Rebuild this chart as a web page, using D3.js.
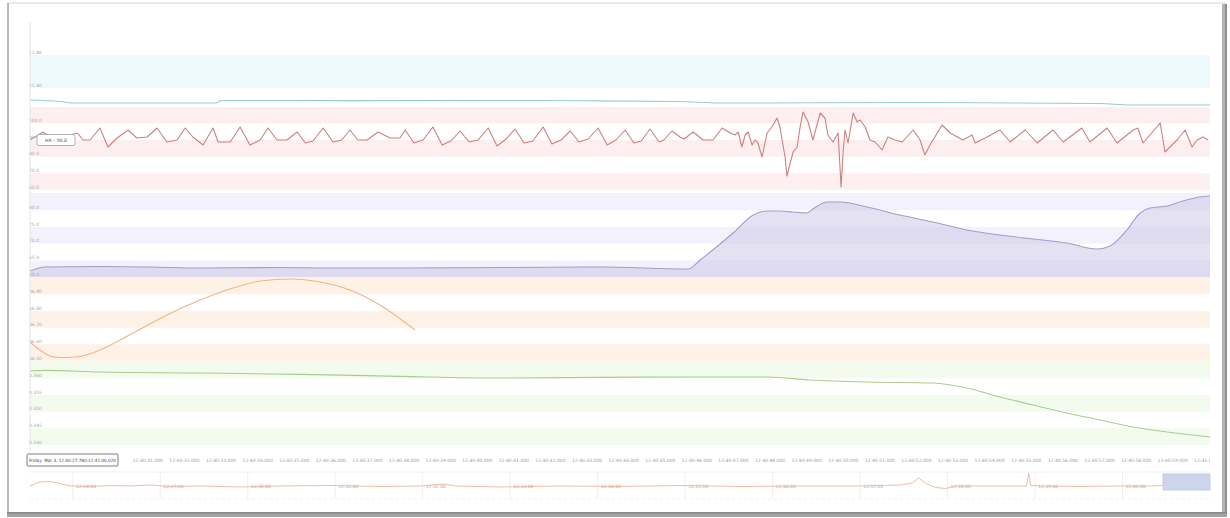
<!DOCTYPE html>
<html>
<head>
<meta charset="utf-8">
<script src="https://cdn.jsdelivr.net/npm/d3@7"></script>
<style>
  html, body { margin: 0; padding: 0; background: #fff; }
  svg { display: block; font-family: "DejaVu Sans", sans-serif; }
</style>
</head>
<body>
<svg id="chart" width="1230" height="518"></svg>
<script>
// ---- session timing -------------------------------------------------------
const sessionStart = new Date(2017, 2, 3, 12, 40, 28, 0);   // Friday, Mar 3
const windowSeconds = [-0.22, 32.02];                        // visible window, s from session start
const historySeconds = 809.4;                                // navigator span ending at window end

// ---- lane 1: temperature probe -------------------------------------------
const cyanDomain = [11.7655, 11.92];
const cyanTicks = [11.80, 11.86];
const cyanTimes  = [-0.22, 0.60, 1.01, 4.84, 5.03, 8.50, 12.62, 15.00, 17.54, 18.63, 24.37, 29.02, 29.84, 32.02];
const cyanValues = [11.7782, 11.7755, 11.7727, 11.7727, 11.7773, 11.7771, 11.7773, 11.7768, 11.7755, 11.7727, 11.7736, 11.7718, 11.7691, 11.7691];

// ---- lane 2: heart rate ----------------------------------------------------
const redDomain = [60, 109.8];
const redTicks = [60, 70, 80, 90, 100];
const redTimes = [
  -0.22, -0.08, 0.14, 0.33, 0.60, 0.87, 1.07, 1.23, 1.42, 1.69, 1.91, 2.16, 2.46, 2.70, 2.98, 3.25, 3.52, 3.80,
  4.02, 4.23, 4.51, 4.78, 4.92, 5.25, 5.52, 5.79, 6.07, 6.28, 6.53, 6.80, 7.08, 7.30, 7.51, 7.79, 8.06, 8.30,
  8.52, 8.74, 8.99, 9.29, 9.62, 9.89,
  10.03, 10.27, 10.52, 10.79, 11.04, 11.28, 11.53, 11.78, 12.02, 12.30, 12.54, 12.79, 13.03, 13.28, 13.52,
  13.80, 14.04, 14.29, 14.54, 14.78, 15.03, 15.30, 15.55, 15.79, 16.04, 16.28, 16.48, 16.72, 16.97, 17.10,
  17.32, 17.54, 17.65, 17.90, 18.17, 18.44, 18.69, 18.91,
  19.04, 19.13, 19.23, 19.32, 19.40, 19.51, 19.59, 19.67, 19.78, 19.92, 20.05, 20.19, 20.27, 20.41, 20.46,
  20.55, 20.63, 20.74, 20.82, 20.90, 21.04, 21.17, 21.37, 21.50, 21.58, 21.72, 21.86, 21.94, 22.00, 22.05,
  22.13, 22.27, 22.38, 22.46, 22.60, 22.73, 22.87, 23.06, 23.22, 23.42, 23.61, 23.91, 24.10, 24.23, 24.37,
  24.70, 24.92, 25.27, 25.52, 25.60, 25.93, 26.28, 26.56, 26.97, 27.30, 27.73, 28.01, 28.52, 28.74, 29.21,
  29.48, 29.92, 30.05, 30.19, 30.66, 30.79, 31.12, 31.34, 31.53, 31.67, 31.83, 31.97
];
const redValues = [
  90.0, 91.8, 94.8, 91.2, 90.0, 93.0, 94.2, 90.0, 90.0, 97.2, 85.8, 91.2, 96.0, 91.2, 91.8, 97.2, 88.8, 90.0,
  97.2, 91.8, 87.0, 97.2, 88.8, 88.8, 97.8, 87.0, 90.0, 97.2, 90.0, 90.0, 94.8, 88.2, 89.4, 97.2, 88.8, 90.0,
  96.0, 90.0, 90.0, 94.8, 91.2, 91.2,
  96.0, 88.2, 90.0, 97.8, 87.0, 89.4, 95.4, 88.8, 90.0, 97.2, 86.4, 90.6, 96.6, 88.2, 89.4,
  97.8, 87.6, 90.0, 95.4, 88.8, 90.6, 97.2, 87.0, 90.0, 96.0, 88.2, 89.4, 96.6, 88.8, 90.0,
  95.4, 91.8, 90.6, 94.8, 90.0, 90.0, 97.2, 94.2,
  93.0, 94.8, 85.8, 93.0, 94.8, 87.0, 90.0, 88.2, 79.8, 94.2, 97.8, 103.2, 97.8, 79.8, 68.4,
  76.2, 82.8, 85.8, 97.8, 106.8, 100.8, 90.0, 106.2, 103.2, 93.0, 88.8, 94.2, 61.8, 84.0, 96.0,
  88.2, 106.2, 100.8, 102.0, 97.8, 90.0, 88.8, 84.0, 91.8, 90.0, 88.8, 96.0, 90.0, 81.0, 87.0,
  99.0, 94.2, 90.0, 93.0, 88.2, 91.8, 96.0, 88.8, 96.0, 88.2, 96.0, 88.8, 97.2, 88.8, 97.2,
  88.2, 96.0, 97.2, 88.2, 100.2, 82.8, 90.0, 96.0, 85.8, 90.0, 91.8, 90.0
];

// ---- lane 3: saturation ----------------------------------------------------
const purpleDomain = [60, 85.2];
const purpleTicks = [60, 65, 70, 75, 80];
const purpleTimes  = [-0.22, 0.19, 1.69, 3.06, 4.43, 6.61, 7.98, 9.89, 12.62, 15.36, 17.76, 18.09, 18.99, 19.54,
  19.92, 20.27, 20.63, 21.01, 21.17, 21.56, 21.91, 22.65, 23.55, 24.45, 25.38, 26.28, 27.19, 28.11, 28.93,
  29.29, 29.75, 30.11, 30.38, 30.85, 31.28, 31.75, 32.02];
const purpleValues = [61.8, 63.0, 63.15, 63.0, 62.7, 62.85, 62.7, 62.7, 62.85, 63.0, 62.4, 65.1, 73.2, 78.6,
  79.8, 79.8, 79.5, 79.2, 80.4, 82.5, 82.5, 81.0, 78.6, 76.5, 74.1, 72.6, 71.4, 70.2, 68.4,
  69.3, 74.1, 79.2, 80.7, 81.3, 82.8, 84.0, 84.3];

// ---- lane 4: core temperature ---------------------------------------------
const orangeDomain = [36.5, 37.004];
const orangeTicks = [36.5, 36.6, 36.7, 36.8, 36.9];
const orangeTimes  = [-0.22, 0.05, 0.33, 0.60, 1.01, 1.42, 1.69, 2.60, 3.52, 4.43, 5.33, 6.07, 6.89, 7.70, 8.52, 9.34, 10.30];
const orangeValues = [36.614, 36.566, 36.530, 36.521, 36.524, 36.542, 36.566, 36.668, 36.776, 36.866, 36.938,
  36.980, 36.992, 36.974, 36.926, 36.836, 36.686];

// ---- lane 5: respiration ---------------------------------------------------
const greenDomain = [0.340, 0.3652];
const greenTicks = [0.340, 0.345, 0.350, 0.355, 0.360];
const greenTimes  = [-0.22, 0.19, 1.69, 4.43, 7.16, 9.89, 12.62, 15.36, 18.09, 19.92, 21.09, 22.65, 24.45,
  25.38, 26.28, 27.19, 28.11, 29.02, 29.92, 30.85, 32.02];
const greenValues = [0.3622, 0.3624, 0.3619, 0.3616, 0.3612, 0.3606, 0.3601, 0.3603, 0.3604, 0.3604, 0.3595,
  0.3589, 0.3586, 0.3571, 0.3544, 0.3520, 0.3496, 0.3475, 0.3454, 0.3439, 0.3424];

// ---- navigator: heart-rate history (s from history start) -----------------
const navDomain = [50, 130];
const navTimes = [0, 6.9, 13.7, 19.2, 27.5, 41.2, 54.9, 68.6, 82.4, 96.1, 116.7, 144.1, 171.6, 205.9, 240.2,
  267.7, 284.8, 291.7, 322.6, 363.8, 404.9, 446.1, 487.3, 528.5, 569.7, 597.1, 605.4, 609.5, 614.3, 621.1,
  628.0, 634.9, 665.8, 683.6, 685.0, 686.4, 693.2, 720.7, 748.1, 768.7, 776.9, 789.3, 809.4];
const navValues = [86.7, 100, 101.7, 96.7, 86.7, 85, 88.3, 86.7, 90, 85, 86.7, 83.3, 86.7, 88.3, 85,
  86.7, 93.3, 86.7, 83.3, 86.7, 85, 88.3, 85, 86.7, 86.7, 90, 96.7, 113.3, 96.7, 81.7,
  78.3, 86.7, 86.7, 86.7, 130, 88.3, 86.7, 85, 86.7, 86.7, 88.3, 86.7, 86.7];

// ---------------------------------------------------------------------------
const svg = d3.select("#chart");
const X0 = 30, X1 = 1210;
const at = s => new Date(sessionStart.getTime() + s * 1000);

const x = d3.scaleTime().domain(windowSeconds.map(at)).range([X0, X1]);

// outer card frame
const frame = svg.append("g");
frame.append("rect").attr("x", 8).attr("y", 3).attr("width", 1217).attr("height", 511)
  .attr("fill", "#fff").attr("stroke", "#d6d6d6").attr("stroke-width", 1);
frame.append("rect").attr("x", 7).attr("y", 3).attr("width", 2).attr("height", 512).attr("fill", "#b9b9b9");
frame.append("rect").attr("x", 1222).attr("y", 4).attr("width", 5).attr("height", 513).attr("fill", "#b3b3b3");
frame.append("rect").attr("x", 1225).attr("y", 4).attr("width", 2).attr("height", 513).attr("fill", "#8f8f8f");
frame.append("rect").attr("x", 7).attr("y", 512).attr("width", 1220).attr("height", 5).attr("fill", "#a4a4a4");
frame.append("rect").attr("x", 7).attr("y", 512).attr("width", 1220).attr("height", 1.5).attr("fill", "#8a8a8a");

svg.append("defs").append("clipPath").attr("id", "plotClip")
  .append("rect").attr("x", X0).attr("y", 0).attr("width", X1 - X0).attr("height", 518);

const lanes = [
  { domain: cyanDomain,   ticks: cyanTicks,   fmt: d3.format(".2f"), range: [107, 22],  shadeFirst: false,
    band: "#eefbfc", stroke: "#96cbd3", times: cyanTimes,   values: cyanValues,   curve: d3.curveMonotoneX },
  { domain: redDomain,    ticks: redTicks,    fmt: d3.format(".1f"), range: [190, 107], shadeFirst: true,
    band: "#fdeff0", stroke: "#cf7f80", times: redTimes,    values: redValues,    curve: d3.curveLinear },
  { domain: purpleDomain, ticks: purpleTicks, fmt: d3.format(".1f"), range: [277, 193], shadeFirst: true,
    band: "#f3f1fc", stroke: "#a29dcc", times: purpleTimes, values: purpleValues, curve: d3.curveMonotoneX,
    area: "#c9c5e6" },
  { domain: orangeDomain, ticks: orangeTicks, fmt: d3.format(".2f"), range: [361, 277], shadeFirst: true,
    band: "#fef1e6", stroke: "#f2b485", times: orangeTimes, values: orangeValues, curve: d3.curveMonotoneX },
  { domain: greenDomain,  ticks: greenTicks,  fmt: d3.format(".3f"), range: [445, 361], shadeFirst: true,
    band: "#f3fbee", stroke: "#adcb90", times: greenTimes,  values: greenValues,  curve: d3.curveMonotoneX }
];

const bandLayer = svg.append("g");
const seriesLayer = svg.append("g").attr("clip-path", "url(#plotClip)");
const labelLayer = svg.append("g");

lanes.forEach(lane => {
  const y = d3.scaleLinear().domain(lane.domain).range(lane.range);
  lane.y = y;
  // alternating shaded bands between gridline values
  const edges = [lane.domain[0], ...lane.ticks.filter(v => v > lane.domain[0] && v < lane.domain[1]), lane.domain[1]];
  d3.pairs(edges).forEach(([lo, hi], i) => {
    if ((i % 2 === 0) === lane.shadeFirst) {
      bandLayer.append("rect")
        .attr("x", X0).attr("width", X1 - X0)
        .attr("y", y(hi)).attr("height", y(lo) - y(hi))
        .attr("fill", lane.band);
    }
  });
  // value labels sit just above their gridline
  lane.ticks.forEach(v => {
    labelLayer.append("text")
      .attr("x", 29).attr("y", y(v) - 1.5)
      .attr("font-size", 4.5).attr("fill", "#a9a9a9")
      .text(lane.fmt(v));
  });
  const pts = lane.times.map((s, i) => [at(s), lane.values[i]]);
  if (lane.area) {
    seriesLayer.append("path").datum(pts)
      .attr("fill", lane.area).attr("fill-opacity", 0.5)
      .attr("d", d3.area().curve(lane.curve).x(d => x(d[0])).y0(y(lane.domain[0])).y1(d => y(d[1])));
  }
  seriesLayer.append("path").datum(pts)
    .attr("fill", "none").attr("stroke", lane.stroke).attr("stroke-width", 1.1)
    .attr("stroke-linejoin", "round")
    .attr("d", d3.line().curve(lane.curve).x(d => x(d[0])).y(d => y(d[1])));
});

// faint value axis
svg.append("line").attr("x1", X0).attr("x2", X0).attr("y1", 22).attr("y2", 452)
  .attr("stroke", "#e4e4e4").attr("stroke-width", 1);

// heart-rate readout flag
const hr = lanes[1];
const flag = svg.append("g").attr("transform", `translate(37,${hr.y(redValues[0]) - 5.5})`);
flag.append("rect").attr("width", 38).attr("height", 11).attr("rx", 2)
  .attr("fill", "#fff").attr("stroke", "#a0a0a0").attr("stroke-width", 0.8);
flag.append("text").attr("x", 19).attr("y", 7.2).attr("text-anchor", "middle")
  .attr("font-size", 4.6).attr("fill", "#555").text(`HR – ${d3.format(".1f")(redValues[0])}`);

// selected range readout box (left end of the time axis)
const rangeBox = { x: 27, y: 454, w: 91, h: 12 };

// time axis: one label per second, skipping those under the range readout
const timeFmt = d3.timeFormat("%H:%M:%S.%L");
const axisG = svg.append("g").attr("clip-path", "url(#plotClip)");
x.ticks(d3.timeSecond.every(1))
  .filter(tk => x(tk) - 15 > rangeBox.x + rangeBox.w + 1)
  .forEach(tk => {
    axisG.append("text").attr("x", x(tk)).attr("y", 461.5).attr("text-anchor", "middle")
      .attr("font-size", 4.5).attr("fill", "#9c9c9c").text(timeFmt(tk));
  });

const rangeFmt = d3.timeFormat("%A, %b %-d, %H:%M:%S.%L");
const rangeG = svg.append("g").attr("transform", `translate(${rangeBox.x},${rangeBox.y})`);
rangeG.append("rect").attr("width", rangeBox.w).attr("height", rangeBox.h).attr("rx", 1)
  .attr("fill", "#fff").attr("stroke", "#6f6f6f").attr("stroke-width", 0.9);
rangeG.append("text").attr("x", 2).attr("y", 7.8).attr("font-size", 4.4).attr("fill", "#444")
  .attr("textLength", 87).attr("lengthAdjust", "spacingAndGlyphs")
  .text(`${rangeFmt(at(windowSeconds[0]))}-${timeFmt(at(windowSeconds[1]))}`);

// navigator
const navEnd = at(windowSeconds[1]);
const navStart = new Date(navEnd.getTime() - historySeconds * 1000);
const nx = d3.scaleTime().domain([navStart, navEnd]).range([X0, X1]);
const ny = d3.scaleLinear().domain(navDomain).range([497, 473]);
const navG = svg.append("g");
navG.append("line").attr("x1", X0).attr("x2", X1).attr("y1", 472).attr("y2", 472).attr("stroke", "#ededed");
navG.append("line").attr("x1", X0).attr("x2", X1).attr("y1", 499).attr("y2", 499)
  .attr("stroke", "#f1f1f1").attr("stroke-dasharray", "3,3");
const navFmt = d3.timeFormat("%H:%M:%S");
nx.ticks(d3.timeMinute.every(1))
  .filter(tk => nx(tk) + 25 < X1)
  .forEach(tk => {
    navG.append("line").attr("x1", nx(tk)).attr("x2", nx(tk)).attr("y1", 472).attr("y2", 499)
      .attr("stroke", "#efefef");
    navG.append("text").attr("x", nx(tk) + 3).attr("y", 488).attr("font-size", 4.5)
      .attr("fill", "#a5a5a5").text(navFmt(tk));
  });
const navPts = navTimes.map((s, i) => [new Date(navStart.getTime() + s * 1000), navValues[i]]);
navG.append("path").datum(navPts)
  .attr("fill", "none").attr("stroke", "#efb595").attr("stroke-width", 0.9)
  .attr("d", d3.line().x(d => nx(d[0])).y(d => ny(d[1])));
navG.append("rect")
  .attr("x", nx(at(windowSeconds[0]))).attr("y", 474)
  .attr("width", nx(at(windowSeconds[1])) - nx(at(windowSeconds[0]))).attr("height", 16)
  .attr("fill", "#ccd5ec").attr("stroke", "#bcc6e2").attr("stroke-width", 0.8);
</script>
</body>
</html>
